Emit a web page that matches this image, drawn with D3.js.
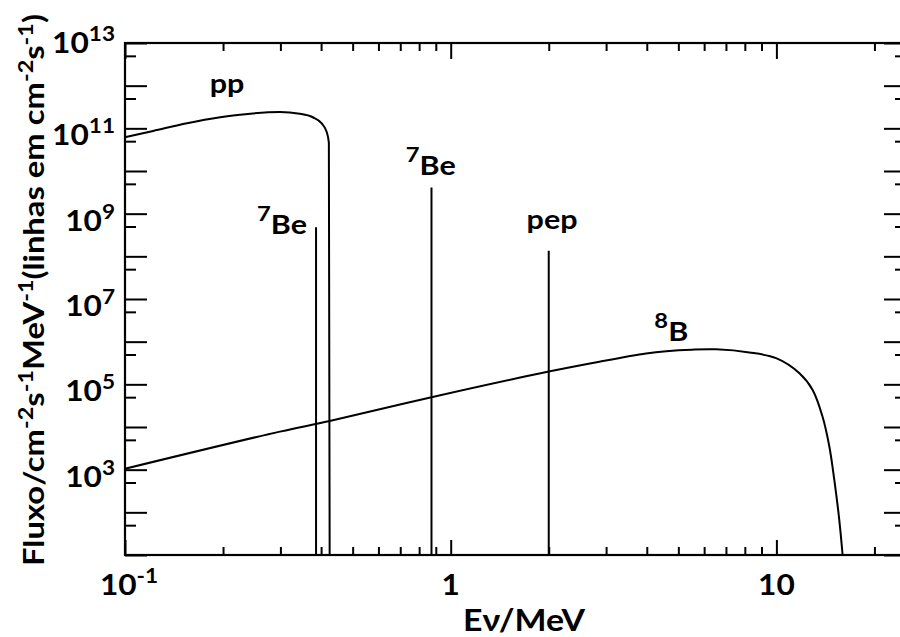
<!DOCTYPE html>
<html>
<head>
<meta charset="utf-8">
<script src="https://cdn.jsdelivr.net/npm/d3@7"></script>
<style>
  body { margin: 0; background: #fff; }
  svg { display: block; }
  text { font-family: Lato, "Open Sans", sans-serif; font-weight: bold; fill: #000; }
</style>
</head>
<body>
<div id="chart"></div>
<script>
// Solar neutrino spectrum

// pp continuum
const ppEnergy = [0.1, 0.122, 0.155, 0.196, 0.247, 0.299, 0.344, 0.377, 0.401, 0.416, 0.4226, 0.425];
const ppFlux = [6.2e10, 8.7e10, 1.32e11, 1.82e11, 2.24e11, 2.4e11, 2.19e11, 1.82e11, 1.32e11, 8.3e10, 4.6e10, 1e1];

// 8B continuum
const bEnergy = [0.1, 0.299, 0.425, 0.873, 2.0, 2.86, 3.98, 4.59, 5.5, 6.53, 8.26, 9.98, 11.77, 12.92, 13.86, 14.54, 15.06, 15.6, 15.97];
const bFlux = [1.05e3, 7.8e3, 1.38e4, 5.0e4, 2.0e5, 3.4e5, 5.3e5, 6.0e5, 6.5e5, 6.6e5, 5.6e5, 4.1e5, 1.82e5, 7.4e4, 1.74e4, 3.5e3, 575, 66, 10];

// line sources (7Be, 7Be, pep)
const lineEnergy = [0.386, 0.873, 2.0];
const lineFlux = [4.8e8, 4.1e9, 1.35e8];

// annotations: text, superscript, energy / flux of the baseline point
const labelText = ["pp", "Be", "Be", "pep", "B"];
const labelSup = ["", "7", "7", "", "8"];
const labelEnergy = [0.182, 0.362, 0.728, 1.71, 4.22];
const labelFlux = [6.8e11, 3.3e8, 8.1e9, 4.4e8, 1.05e6];
const labelAnchor = ["start", "end", "start", "start", "start"];

// tick labels
const yLabelValues = [1e3, 1e5, 1e7, 1e9, 1e11, 1e13];
const yLabelExp = ["3", "5", "7", "9", "11", "13"];
const xLabelValues = [0.1, 1, 10];
const xLabelBase = ["10", "1", "10"];
const xLabelExp = ["-1", "", ""];

const width = 900;
const height = 637;
const margin = {left: 125, right: -6, top: 43, bottom: 82};
const stretch = 1.13; // reference font is wider than Lato

const svg = d3.select("#chart")
  .append("svg")
  .attr("width", width)
  .attr("height", height)
  .attr("viewBox", [0, 0, width, height]);

const x = d3.scaleLog()
  .domain([0.1, 25])
  .range([margin.left, width - margin.right]);

const y = d3.scaleLog()
  .domain([1e1, 1e13])
  .range([height - margin.bottom, margin.top]);

const x0 = x.range()[0], x1 = x.range()[1];
const y0 = y.range()[0], y1 = y.range()[1];

// tick values
const xMajor = [0.1, 1, 10];
const xMinor = [];
[0.1, 1, 10].forEach(b => { for (let k = 2; k <= 9; k++) if (b * k <= 25) xMinor.push(b * k); });
const yMajor = d3.range(1, 14).map(e => Math.pow(10, e));
const yMinor = d3.range(1, 13).map(e => 5 * Math.pow(10, e));

function ticks(axis, vals, size, tx, ty) {
  const g = svg.append("g")
    .attr("transform", `translate(${tx},${ty})`)
    .call(axis.tickValues(vals).tickSize(size).tickFormat(""));
  g.select(".domain").remove();
  g.selectAll("line").attr("stroke", "#000").attr("stroke-width", 2);
}

ticks(d3.axisBottom(x), xMajor, -15, 0, y0);
ticks(d3.axisBottom(x), xMinor, -8, 0, y0);
ticks(d3.axisTop(x), xMajor, -16, 0, y1);
ticks(d3.axisTop(x), xMinor, -8, 0, y1);
ticks(d3.axisLeft(y), yMajor, -22, x0, 0);
ticks(d3.axisLeft(y), yMinor, -11, x0, 0);
ticks(d3.axisRight(y), yMajor, -22, x1, 0);
ticks(d3.axisRight(y), yMinor, -11, x1, 0);

// frame
svg.append("rect")
  .attr("x", x0).attr("y", y1)
  .attr("width", x1 - x0).attr("height", y0 - y1)
  .attr("fill", "none").attr("stroke", "#000").attr("stroke-width", 2.2);

// curves
const ppLine = d3.line()
  .x(d => x(d[0]))
  .y(d => y(d[1]))
  .curve(d3.curveMonotoneX);

const bLine = d3.line()
  .x(d => x(d[0]))
  .y(d => y(d[1]))
  .curve(d3.curveCatmullRom.alpha(0.5));

svg.append("path")
  .datum(d3.zip(ppEnergy, ppFlux))
  .attr("d", ppLine)
  .attr("fill", "none").attr("stroke", "#000").attr("stroke-width", 2);

svg.append("path")
  .datum(d3.zip(bEnergy, bFlux))
  .attr("d", bLine)
  .attr("fill", "none").attr("stroke", "#000").attr("stroke-width", 2);

svg.selectAll(".src")
  .data(d3.zip(lineEnergy, lineFlux))
  .enter()
  .append("line")
    .attr("class", "src")
    .attr("x1", d => x(d[0])).attr("x2", d => x(d[0]))
    .attr("y1", d => y(d[1])).attr("y2", y0)
    .attr("stroke", "#000").attr("stroke-width", 2);

// text placed in a group that widens the glyphs a little
function stext(px, py, size, anchor, rot, sx) {
  return svg.append("g")
    .attr("transform", `translate(${px},${py}) rotate(${rot || 0}) scale(${sx || stretch},1)`)
    .append("text")
    .attr("text-anchor", anchor)
    .attr("font-size", size);
}

// annotations
labelText.forEach((t, i) => {
  const txt = stext(x(labelEnergy[i]), y(labelFlux[i]), 27, labelAnchor[i]);
  if (labelSup[i]) {
    txt.append("tspan").attr("font-size", 21).attr("dy", -13).text(labelSup[i]);
    txt.append("tspan").attr("dy", 13).text(t);
  } else {
    txt.text(t);
  }
});

// y tick labels
yLabelValues.forEach((v, i) => {
  const txt = stext(x0 - 10, y(v) + (v === 1e13 ? 10 : 17), 28, "end");
  txt.append("tspan").text("10");
  txt.append("tspan").attr("font-size", 20).attr("dy", -12).text(yLabelExp[i]);
});

// x tick labels
xLabelValues.forEach((v, i) => {
  const txt = stext(x(v) + (xLabelExp[i] ? 4 : 0), y0 + 40, 28, "middle");
  txt.append("tspan").text(xLabelBase[i]);
  if (xLabelExp[i]) txt.append("tspan").attr("font-size", 20).attr("dy", -12).text(xLabelExp[i]);
});

// axis titles
stext(524, 631, 30, "middle").text("E\u03bd/MeV");

const yt = stext(44, 290, 28, "middle", -90, 1.17);
const parts = [["Fluxo/cm", 0], ["-2", 1], ["s", 0], ["-1", 1], ["MeV", 0], ["-1", 1],
               ["(linhas em cm", 0], ["-2", 1], ["s", 0], ["-1", 1], [")", 0]];
let up = false;
parts.forEach(p => {
  const ts = yt.append("tspan").text(p[0]);
  if (p[1] && !up) { ts.attr("font-size", 20).attr("dy", -11); up = true; }
  else if (!p[1] && up) { ts.attr("dy", 11); up = false; }
});
</script>
</body>
</html>
